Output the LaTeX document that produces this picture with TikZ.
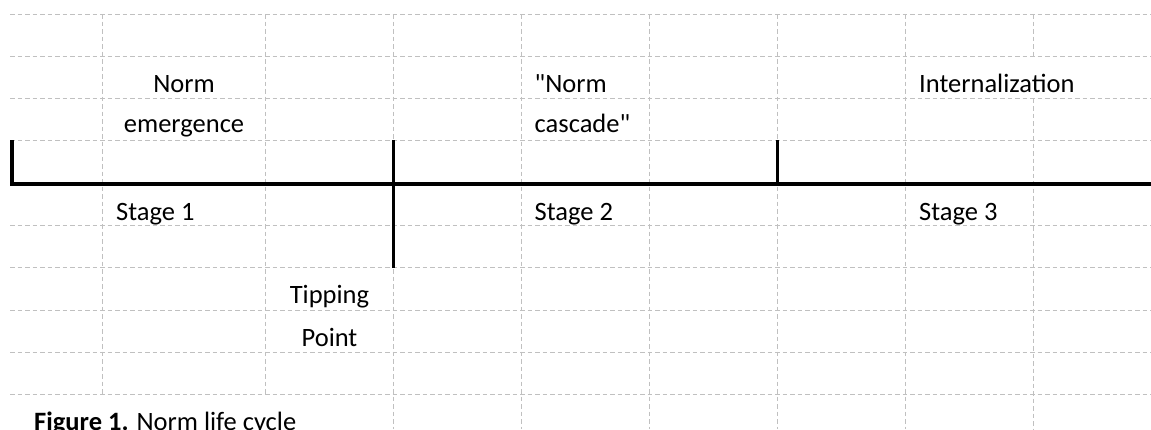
\documentclass[tikz,border=0pt]{standalone}
\usepackage{fontspec}
\setmainfont{Carlito}[Ligatures=TeXOff]
\definecolor{gridgray}{RGB}{192,192,192}
\tikzset{
  gridline/.style={draw=gridgray, line width=1pt, dash pattern=on 4.5pt off 3pt},
  axisline/.style={draw=black, line width=3.5pt},
  celltext/.style={inner sep=0pt, font=\fontsize{26.5}{31}\selectfont, text=black},
  leftcell/.style={celltext, anchor=base west},
  midcell/.style={celltext, anchor=base},
}
\begin{document}
\begin{tikzpicture}[x=1pt, y=-1pt]
\useasboundingbox (0,0) rectangle (1151,429);
\clip (0,0) rectangle (1151,429);
\fill[white] (0,0) rectangle (1151,429);

% sheet gridlines: rows
\foreach \k in {0,...,9}
  \draw[gridline] (10,{14+42.3*\k}) -- (1151,{14+42.3*\k});
% sheet gridlines: columns (gaps where cell text runs over)
\foreach \cx in {393.3,521.7,649.3,777.3,905.7}
  \draw[gridline] (\cx,14) -- (\cx,429);
\foreach \cx in {102.7,265.7}
  \draw[gridline] (\cx,14) -- (\cx,394.7);
\draw[gridline] (1033.7,14) -- (1033.7,56.3);
\draw[gridline] (1033.7,98.6) -- (1033.7,429);

% timeline
\coordinate (t0top) at (12,140);
\coordinate (t0) at (12,184);
\coordinate (tend) at (1151,184);
\coordinate (t1top) at (393.5,140);
\coordinate (t1bot) at (393.5,267.5);
\coordinate (t2top) at (777.5,140);
\coordinate (t2) at (777.5,184);
\draw[axisline, line join=miter] (t0top) -- (t0) -- (tend);
\draw[axisline] (t1top) -- (t1bot);
\draw[axisline] (t2top) -- (t2);

% labels
\node[midcell] (emerg1) at (184,92) {Norm};
\node[midcell] (emerg2) at (184,132.7) {emergence};
\node[leftcell] (stage1) at (116,220) {Stage 1};
\node[leftcell] (casc1) at (534.5,92.5) {"Norm};
\node[leftcell] (casc2) at (534.5,132) {cascade"};
\node[leftcell] (stage2) at (534.5,220) {Stage 2};
\node[leftcell] (intern) at (919,92) {Internalization};
\node[leftcell] (stage3) at (919,220) {Stage 3};
\node[midcell] (tip1) at (329.5,303.3) {Tipping};
\node[midcell] (tip2) at (329.5,346) {Point};
\node[leftcell] (caption) at (34,430) {\textbf{Figure 1.} Norm life cycle};
\end{tikzpicture}
\end{document}
